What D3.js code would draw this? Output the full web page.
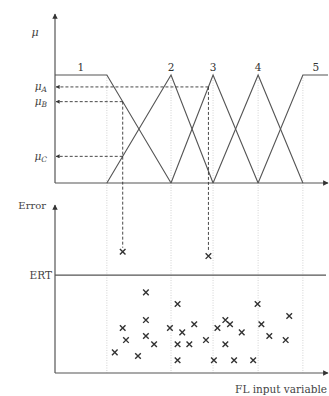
<!DOCTYPE html>
<html><head><meta charset="utf-8">
<script src="https://cdn.jsdelivr.net/npm/d3@7/dist/d3.min.js"></script>
<style>html,body{margin:0;padding:0;background:#fff;overflow:hidden}</style>
</head><body>
<svg id="c" width="329" height="396"></svg>
<script>
// ---- data ----
const setLabels = ["1", "2", "3", "4", "5"];
const breakpoints = [1.90, 4.25, 5.79, 7.44, 9.08];   // FL input variable
const inputMin = 0, inputMax = 10;
const ertValue = 5.83;
const sampleA = {x: 5.62, err: 6.96, set: 2, label: "A"};
const sampleB = {x: 2.48, err: 7.22, set: 0, label: "B"};
const sampleC = {x: 2.48, set: 1, label: "C"};
const errX = [3.33, 3.33, 2.48, 3.33, 2.60, 3.63, 2.19, 3.04,
              4.49, 7.42, 8.58, 6.24, 5.10, 6.41, 7.56, 4.21, 5.95, 4.66, 6.84, 7.85, 5.53, 8.45,
              4.49, 4.92, 6.24, 4.49, 5.82, 6.56, 7.26];
const errY = [4.80, 3.15, 2.68, 2.20, 1.96, 1.71, 1.23, 1.01,
              4.11, 4.11, 3.39, 3.15, 2.90, 2.90, 2.90, 2.68, 2.68, 2.42, 2.42, 2.20, 1.96, 1.96,
              1.71, 1.71, 1.71, 0.76, 0.76, 0.76, 0.76];

// ---- scales ----
const x = d3.scaleLinear().domain([inputMin, inputMax]).range([55, 328]);
const mu = d3.scaleLinear().domain([0, 1]).range([183, 75]);
const ey = d3.scaleLinear().domain([0, 10]).range([373, 205]);

// membership functions
function setPoints(i) {
  const pts = [];
  if (i === 0) { pts.push([inputMin, 1], [breakpoints[0], 1], [breakpoints[1], 0]); }
  else if (i === setLabels.length - 1) { pts.push([breakpoints[i - 1], 0], [breakpoints[i], 1], [inputMax, 1]); }
  else { pts.push([breakpoints[i - 1], 0], [breakpoints[i], 1], [breakpoints[i + 1], 0]); }
  return pts;
}
function memb(i, v) {
  const p = setPoints(i);
  for (let k = 0; k < p.length - 1; k++) {
    if (v >= p[k][0] && v <= p[k + 1][0]) {
      const t = (v - p[k][0]) / (p[k + 1][0] - p[k][0]);
      return p[k][1] + t * (p[k + 1][1] - p[k][1]);
    }
  }
  return 0;
}

const svg = d3.select("#c");
const col = "#555";
const font = "DejaVu Serif, Liberation Serif, serif";

const defs = svg.append("defs");
defs.append("marker").attr("id", "arr").attr("viewBox", "0 0 10 10").attr("refX", 9).attr("refY", 5)
  .attr("markerWidth", 4.5).attr("markerHeight", 4.5).attr("orient", "auto-start-reverse")
  .append("path").attr("d", "M0,0L10,5L0,10z").attr("fill", "#333");

// vertical dotted guide lines
svg.append("g").selectAll("line").data(breakpoints).join("line")
  .attr("x1", d => x(d)).attr("x2", d => x(d))
  .attr("y1", mu(1)).attr("y2", ey(0))
  .attr("stroke", "#c8c8c8").attr("stroke-width", 0.8).attr("stroke-dasharray", "1,1.5");

// membership functions
const line = d3.line().x(d => x(d[0])).y(d => mu(d[1]));
svg.append("g").selectAll("path").data(setLabels.map((l, i) => setPoints(i))).join("path")
  .attr("d", line).attr("fill", "none").attr("stroke", col).attr("stroke-width", 1.1);

// set labels
svg.append("g").selectAll("text").data(setLabels).join("text")
  .attr("x", (d, i) => {
    if (i === 0) return (x(inputMin) + x(breakpoints[0])) / 2;
    if (i === setLabels.length - 1) return (x(breakpoints[i]) + 329) / 2;
    return x(breakpoints[i]);
  })
  .attr("y", mu(1) - 4).attr("text-anchor", "middle")
  .attr("font-family", font).attr("font-size", 10.5).attr("fill", "#333").text(d => d);

// axes (top panel)
svg.append("line").attr("x1", x(inputMin)).attr("x2", x(inputMin)).attr("y1", mu(0)).attr("y2", 14)
  .attr("stroke", col).attr("stroke-width", 1.2).attr("marker-end", "url(#arr)");
svg.append("line").attr("x1", x(inputMin)).attr("x2", x(inputMax)).attr("y1", mu(0)).attr("y2", mu(0))
  .attr("stroke", col).attr("stroke-width", 1.2).attr("marker-end", "url(#arr)");

// axes (bottom panel)
svg.append("line").attr("x1", x(inputMin)).attr("x2", x(inputMin)).attr("y1", ey(0)).attr("y2", ey(10))
  .attr("stroke", col).attr("stroke-width", 1.2).attr("marker-end", "url(#arr)");
svg.append("line").attr("x1", x(inputMin)).attr("x2", x(inputMax)).attr("y1", ey(0)).attr("y2", ey(0))
  .attr("stroke", col).attr("stroke-width", 1.2).attr("marker-end", "url(#arr)");
svg.append("line").attr("x1", x(inputMin)).attr("x2", x(inputMax) - 2).attr("y1", ey(ertValue)).attr("y2", ey(ertValue))
  .attr("stroke", col).attr("stroke-width", 1.2);

// dashed projections
const samples = [sampleA, sampleB, sampleC];
samples.forEach(s => {
  const m = memb(s.set, s.x);
  svg.append("line").attr("x1", x(s.x)).attr("x2", x(inputMin) + 1).attr("y1", mu(m)).attr("y2", mu(m))
    .attr("stroke", "#333").attr("stroke-width", 0.9).attr("stroke-dasharray", "3,2")
    .attr("marker-end", "url(#arr)");
  svg.append("text").attr("x", 47).attr("y", mu(m) + 3.5).attr("text-anchor", "end")
    .attr("font-family", font).attr("font-style", "italic").attr("font-size", 10.5).attr("fill", "#444")
    .call(t => { t.append("tspan").text("μ"); t.append("tspan").attr("font-size", 7.5).attr("dy", 2).text(s.label); });
});
[sampleA, sampleB].forEach(s => {
  const m = memb(s.set, s.x);
  svg.append("line").attr("x1", x(s.x)).attr("x2", x(s.x)).attr("y1", mu(m)).attr("y2", ey(s.err) - 4)
    .attr("stroke", "#333").attr("stroke-width", 0.9).attr("stroke-dasharray", "3,2");
});

// error markers
const pts = errX.map((v, i) => [v, errY[i]]).concat([[sampleA.x, sampleA.err], [sampleB.x, sampleB.err]]);
const r = 2.8;
svg.append("g").selectAll("path").data(pts).join("path")
  .attr("d", d => { const cx = x(d[0]), cy = ey(d[1]);
    return `M${cx - r},${cy - r}L${cx + r},${cy + r}M${cx - r},${cy + r}L${cx + r},${cy - r}`; })
  .attr("stroke", "#333").attr("stroke-width", 1.4).attr("fill", "none");

// labels
svg.append("text").attr("x", 35).attr("y", 36).attr("text-anchor", "middle")
  .attr("font-family", font).attr("font-style", "italic").attr("font-size", 11).attr("fill", "#444").text("μ");
svg.append("text").attr("x", 46).attr("y", ey(10) + 3.5).attr("text-anchor", "end")
  .attr("font-family", font).attr("font-size", 10).attr("fill", "#444").text("Error");
svg.append("text").attr("x", 52).attr("y", ey(ertValue) + 3.5).attr("text-anchor", "end")
  .attr("font-family", font).attr("font-size", 10.5).attr("fill", "#444").text("ERT");
svg.append("text").attr("x", 327).attr("y", 393).attr("text-anchor", "end")
  .attr("font-family", font).attr("font-size", 10.5).attr("fill", "#444").text("FL input variable");
</script>
</body></html>
